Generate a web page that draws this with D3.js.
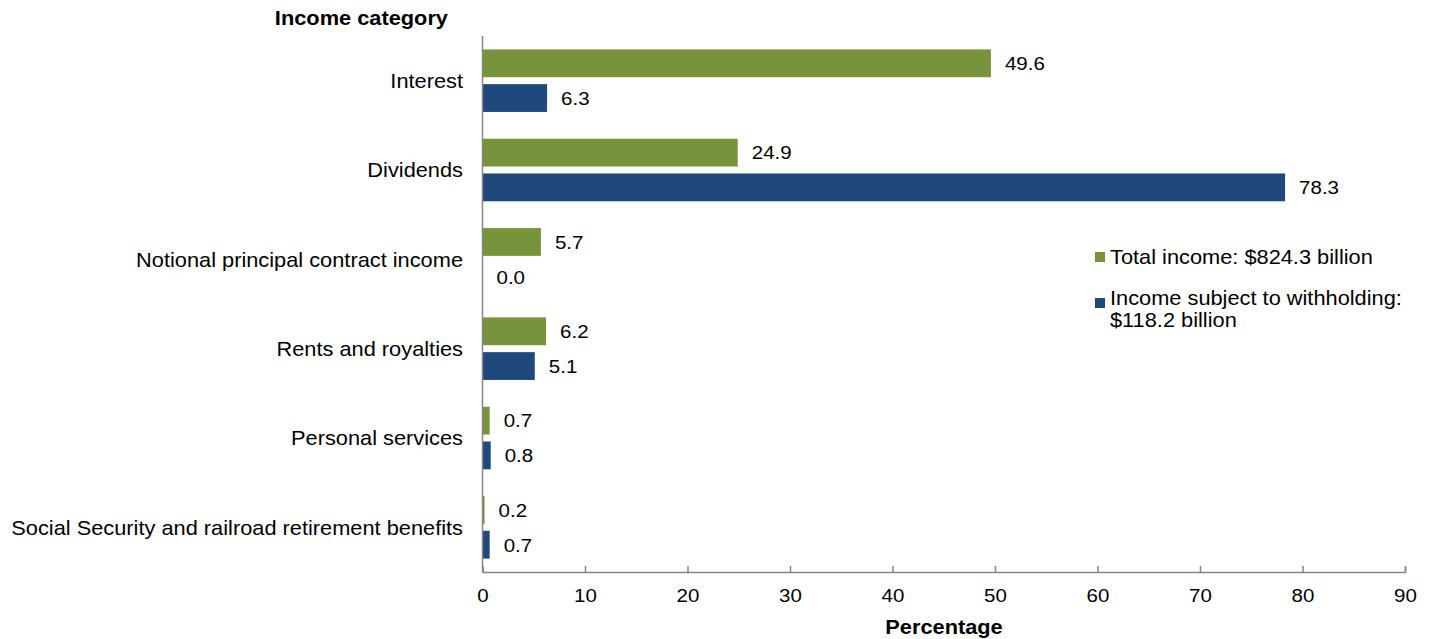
<!DOCTYPE html>
<html>
<head>
<meta charset="utf-8">
<script src="https://cdn.jsdelivr.net/npm/d3@7"></script>
<style>
  html, body { margin: 0; padding: 0; background: #fff; }
  svg { display: block; font-family: "Liberation Sans", Arial, sans-serif; }
</style>
</head>
<body>
<svg id="chart" width="1429" height="639"></svg>
<script>
// Income categories, top to bottom
const categories = [
  "Interest",
  "Dividends",
  "Notional principal contract income",
  "Rents and royalties",
  "Personal services",
  "Social Security and railroad retirement benefits"
];
// Percentage shares per series
const totalIncome = [49.6, 24.9, 5.7, 6.2, 0.7, 0.2];
const subjectToWithholding = [6.3, 78.3, 0.0, 5.1, 0.8, 0.7];
const seriesNames = ["Total income: $824.3 billion", "Income subject to withholding:\n$118.2 billion"];
const xTicks = [0, 10, 20, 30, 40, 50, 60, 70, 80, 90];

const colors = ["#77933C", "#1F497D"];
const series = [totalIncome, subjectToWithholding];

// Typography is set slightly wide
const labelSize = 20, labelStretch = 1.09;
const numSize = 19, numStretch = 1.08;

const svg = d3.select("#chart");
const margin = { left: 482.5, right: 24, top: 36, bottom: 67 };
const W = 1429, H = 639;

const x = d3.scaleLinear().domain([0, 90]).range([margin.left, W - margin.right]);
const y = d3.scaleBand().domain(categories).range([margin.top, H - margin.bottom]).paddingInner(0.3).paddingOuter(0.15);
const inner = d3.scaleBand().domain([0, 1]).range([0, y.bandwidth()]).paddingInner(0.2);

// Place a text element at (tx, ty) with horizontal stretch
function place(sel, tx, ty, sx) {
  return sel.attr("x", 0).attr("y", 0)
    .attr("transform", (d, i) => {
      const px = typeof tx === "function" ? tx(d, i) : tx;
      const py = typeof ty === "function" ? ty(d, i) : ty;
      return `translate(${px},${py}) scale(${sx},1)`;
    });
}

// Bars and value labels
series.forEach((vals, si) => {
  const g = svg.append("g");
  g.selectAll("rect").data(vals).join("rect")
    .attr("x", x(0))
    .attr("y", (d, i) => y(categories[i]) + inner(si))
    .attr("width", d => x(d) - x(0))
    .attr("height", inner.bandwidth())
    .attr("fill", colors[si]);
  place(g.selectAll("text").data(vals).join("text"),
      d => x(d) + 14,
      (d, i) => y(categories[i]) + inner(si) + inner.bandwidth() / 2,
      numStretch)
    .attr("dy", "0.36em")
    .attr("font-size", numSize)
    .attr("fill", "#000")
    .text(d => d.toFixed(1));
});

// Category labels
place(svg.append("g").selectAll("text").data(categories).join("text"),
    463, d => y(d) + y.bandwidth() / 2, labelStretch)
  .attr("dy", "0.36em")
  .attr("text-anchor", "end")
  .attr("font-size", labelSize)
  .text(d => d);

// Vertical axis line
svg.append("line")
  .attr("x1", x(0)).attr("x2", x(0))
  .attr("y1", margin.top).attr("y2", H - margin.bottom)
  .attr("stroke", "#868686").attr("stroke-width", 1.5);

// Horizontal axis
const xAxis = d3.axisBottom(x).tickValues(xTicks).tickSize(-6).tickPadding(16).tickFormat(d3.format("d"));
const ax = svg.append("g").attr("transform", `translate(0,${H - margin.bottom})`).call(xAxis);
ax.select(".domain").attr("stroke", "#868686").attr("stroke-width", 1.5);
ax.selectAll(".tick line").attr("stroke", "#868686").attr("stroke-width", 1.5);
ax.selectAll(".tick text")
  .attr("y", null).attr("dy", null)
  .attr("transform", `translate(0,30) scale(${numStretch},1)`)
  .attr("font-size", numSize).attr("fill", "#000")
  .attr("font-family", "Liberation Sans, Arial, sans-serif");

// Titles
place(svg.append("text"), 448, 25, labelStretch).attr("text-anchor", "end")
  .attr("font-size", labelSize).attr("font-weight", "bold").text("Income category");
place(svg.append("text"), 944, 634, labelStretch).attr("text-anchor", "middle")
  .attr("font-size", labelSize).attr("font-weight", "bold").text("Percentage");

// Legend: swatch centre and first text baseline per entry
const legendSwatchY = [257, 303];
const legendTextY = [264, 305];
seriesNames.forEach((name, i) => {
  svg.append("rect").attr("x", 1095).attr("y", legendSwatchY[i] - 5).attr("width", 10).attr("height", 10).attr("fill", colors[i]);
  const t = place(svg.append("text"), 1110, legendTextY[i], labelStretch).attr("font-size", labelSize);
  name.split("\n").forEach((line, j) => {
    t.append("tspan").attr("x", 0).attr("y", j * 22).text(line);
  });
});
</script>
</body>
</html>
